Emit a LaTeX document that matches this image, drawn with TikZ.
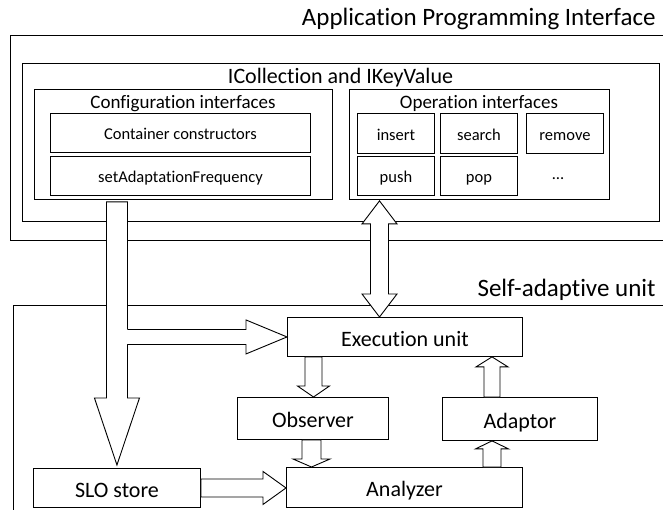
\documentclass[tikz,border=0pt]{standalone}
\usepackage{fontspec}
\setmainfont{Carlito}[Ligatures={NoCommon,NoContextual}]
\usepackage{tikz}
\usetikzlibrary{calc}

% block arrow: start, tip, shaft half width, head half width, head length
\newcommand{\blockarrow}[5]{%
  \coordinate (hb) at ($(#2)!#5!(#1)$);
  \draw[blk] ($(#1)!#3!90:(#2)$) -- ($(hb)!#3!90:(#2)$) -- ($(hb)!#4!90:(#2)$) -- (#2)
    -- ($(hb)!#4!-90:(#2)$) -- ($(hb)!#3!-90:(#2)$) -- ($(#1)!#3!-90:(#2)$) -- cycle;
}
% block arrow with a head at both ends
\newcommand{\dblarrow}[5]{%
  \coordinate (hba) at ($(#1)!#5!(#2)$);
  \coordinate (hbb) at ($(#2)!#5!(#1)$);
  \draw[blk] (#1) -- ($(hba)!#4!90:(#2)$) -- ($(hba)!#3!90:(#2)$) -- ($(hbb)!#3!90:(#2)$)
    -- ($(hbb)!#4!90:(#2)$) -- (#2) -- ($(hbb)!#4!-90:(#2)$) -- ($(hbb)!#3!-90:(#2)$)
    -- ($(hba)!#3!-90:(#2)$) -- ($(hba)!#4!-90:(#2)$) -- cycle;
}

\begin{document}
\begin{tikzpicture}[x=1pt, y=-1pt, line width=0.9pt,
    frame/.style={draw, anchor=north west, inner sep=0pt},
    cell/.style={frame, text height=14pt, text depth=0pt, font=\fontsize{16.5}{19}\selectfont},
    unit/.style={frame, text height=18.7pt, text depth=0pt, font=\fontsize{22}{26}\selectfont},
    biglabel/.style={anchor=base east, inner sep=0pt, font=\fontsize{25}{30}\selectfont},
    title/.style={inner sep=0pt, text height=16pt, text depth=0pt, font=\fontsize{19}{22}\selectfont},
    blk/.style={draw, fill=white, line join=miter}]
    \useasboundingbox (0,0) rectangle (663,510);

    % API part
    \node[biglabel] (apilabel) at (656,26) {Application Programming Interface};
    \node[frame, minimum width=680pt, minimum height=205pt] (api) at (10,35) {};
    \node[frame, minimum width=637pt, minimum height=158pt] (icoll) at (22,63) {};
    \node[title, text height=18.7pt, font=\fontsize{22}{26}\selectfont] (icolltitle) at (340.5,74) {ICollection and IKeyValue};

    \node[frame, minimum width=298pt, minimum height=110pt] (conf) at (34,89) {};
    \node[title] (conftitle) at (183,101) {Configuration interfaces};
    \node[cell, minimum width=260pt, minimum height=39pt] (ctor) at (50,113) {Container constructors};
    \node[cell, minimum width=260pt, minimum height=39pt] (setaf) at (50,156) {setAdaptationFrequency};

    \node[frame, minimum width=260pt, minimum height=110pt] (op) at (349,89) {};
    \node[title] (optitle) at (479,101) {Operation interfaces};
    \node[cell, minimum width=77pt, minimum height=40pt] (insert) at (357,113) {insert};
    \node[cell, minimum width=77pt, minimum height=40pt] (search) at (440,113) {search};
    \node[cell, minimum width=77pt, minimum height=40pt] (remove) at (526,113) {remove};
    \node[cell, minimum width=77pt, minimum height=39pt] (push) at (357,156) {push};
    \node[cell, minimum width=77pt, minimum height=39pt] (pop) at (440,156) {pop};
    \node[inner sep=0pt, font=\fontsize{16.5}{19}\selectfont] (more) at (558,179) {…};

    % self-adaptive unit
    \node[biglabel] (salabel) at (656,297) {Self-adaptive unit};
    \node[frame, minimum width=680pt, minimum height=220pt] (sau) at (13,305) {};
    \node[unit, minimum width=235pt, minimum height=39pt] (exec) at (287,317) {Execution unit};
    \node[unit, minimum width=151pt, minimum height=42pt] (observer) at (237,397) {Observer};
    \node[unit, minimum width=155pt, minimum height=43pt] (adaptor) at (442,397) {Adaptor};
    \node[unit, minimum width=236pt, minimum height=40pt] (analyzer) at (286,467) {Analyzer};
    \node[unit, minimum width=167pt, minimum height=39pt] (slo) at (33,468) {SLO store};

    % arrows
    \coordinate (bigs) at ($(slo.north |- conf.south)+(0,2)$);
    \coordinate (bigt) at ($(slo.north)+(0,-3)$);
    \blockarrow{bigs}{bigt}{10.5pt}{22.5pt}{67pt}
    % branch to the execution unit
    \coordinate (brs) at ($(bigs |- exec.west)+(10.5,0)$);
    \coordinate (brh) at ($(exec.west)+(-41,0)$);
    \fill[white] ($(brs)+(-1.5,-7.5)$) rectangle ($(brh)+(0,7.5)$);
    \draw[blk] ($(brs)+(0,-7.5)$) -- ($(brh)+(0,-7.5)$) -- ($(brh)+(0,-17)$) -- (exec.west)
        -- ($(brh)+(0,17)$) -- ($(brh)+(0,7.5)$) -- ($(brs)+(0,7.5)$);

    \coordinate (ops) at ($(op.south west)+(30.5,1)$);
    \coordinate (exn) at (ops |- exec.north);
    \dblarrow{ops}{exn}{9pt}{17.5pt}{23pt}

    \coordinate (exs) at ($(exec.south west)+(26.5,0)$);
    \coordinate (obn) at (exs |- observer.north);
    \blockarrow{exs}{obn}{8.5pt}{16pt}{11pt}

    \coordinate (adn) at ($(adaptor.north west)+(50,0)$);
    \coordinate (exs2) at (adn |- exec.south);
    \blockarrow{adn}{exs2}{8pt}{16pt}{10pt}

    \coordinate (obs) at ($(observer.south west)+(74.5,0)$);
    \coordinate (ann) at (obs |- analyzer.north);
    \blockarrow{obs}{ann}{9.5pt}{18.5pt}{8pt}

    \coordinate (ann2) at ($(analyzer.north west)+(206,0)$);
    \coordinate (ads) at (ann2 |- adaptor.south);
    \blockarrow{ann2}{ads}{9pt}{16.5pt}{8pt}

    \coordinate (sloe) at (slo.east);
    \coordinate (anw) at (sloe -| analyzer.west);
    \blockarrow{sloe}{anw}{9pt}{16.5pt}{23pt}
\end{tikzpicture}
\end{document}
